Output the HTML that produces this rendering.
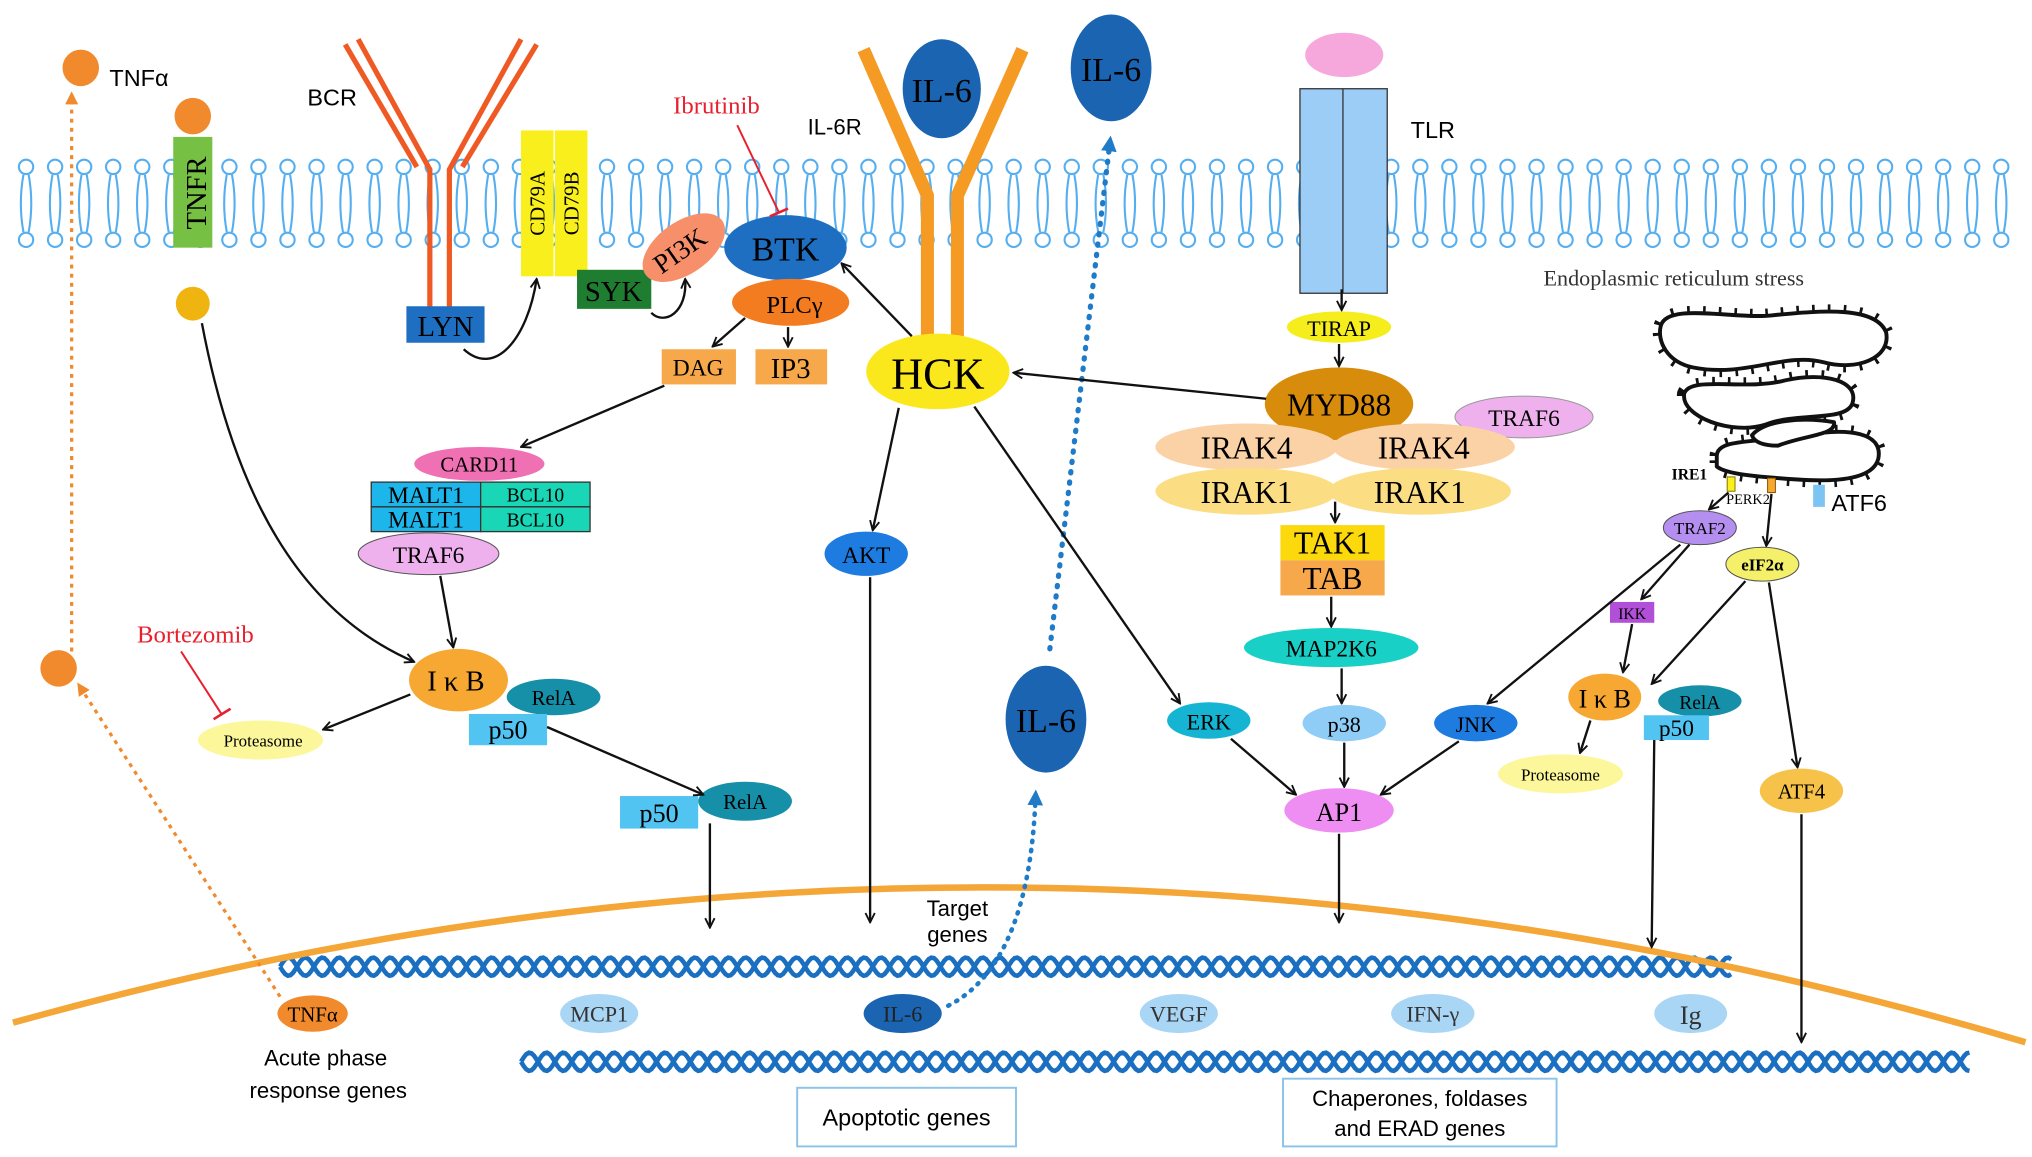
<!DOCTYPE html>
<html><head><meta charset="utf-8">
<style>
html,body{margin:0;padding:0;background:#fff;}
svg{display:block;}
.s{font-family:"Liberation Sans",sans-serif;}
.r{font-family:"Liberation Serif",serif;}
</style></head>
<body>
<svg id="svg" width="2032" height="1157" viewBox="0 0 1560 888" xmlns="http://www.w3.org/2000/svg">
<defs>
<marker id="a" viewBox="0 0 10 10" refX="9" refY="5" markerWidth="9" markerHeight="9" orient="auto-start-reverse" markerUnits="userSpaceOnUse">
<path d="M1,1 L9,5 L1,9" fill="none" stroke="#111" stroke-width="1.6"/></marker>
<marker id="ao" viewBox="0 0 10 10" refX="5" refY="5" markerWidth="10" markerHeight="10" orient="auto" markerUnits="userSpaceOnUse">
<path d="M0,0 L10,5 L0,10 z" fill="#f08a2c"/></marker>
<marker id="ab" viewBox="0 0 10 10" refX="5" refY="5" markerWidth="12" markerHeight="12" orient="auto" markerUnits="userSpaceOnUse">
<path d="M0,0 L10,5 L0,10 z" fill="#1f7bc8"/></marker>
<path id="er1" d="M1275,250 C1280,232 1330,245 1360,242 C1400,238 1440,235 1448,255 C1452,275 1425,285 1400,278 C1370,270 1340,290 1300,282 C1280,278 1272,262 1275,250Z"/>
<path id="er2" d="M1293,302 C1298,288 1340,300 1370,292 C1400,285 1428,292 1422,310 C1416,324 1380,316 1355,326 C1330,334 1290,320 1293,302Z"/>
<path id="er3" d="M1318,350 C1318,336 1350,340 1385,334 C1420,328 1446,332 1442,352 C1438,368 1410,370 1380,368 C1350,366 1325,364 1318,358Z"/>
<path id="er4" d="M1345,334 C1355,322 1385,320 1408,324 C1410,334 1385,334 1365,342 C1355,342 1347,340 1345,334Z"/>
</defs>
<g id="mem"></g>
<g id="dna"></g>

<!-- nucleus arc -->
<path d="M10,785 Q780,570 1555,800" fill="none" stroke="#f4a636" stroke-width="5"/>

<!-- TNF -->
<circle cx="62" cy="52" r="14" fill="#f08a2c"/>
<text x="84" y="66" class="s" font-size="18">TNFα</text>
<line x1="55" y1="500" x2="55" y2="75" stroke="#f08a2c" stroke-width="2.5" stroke-dasharray="3,4" marker-end="url(#ao)"/>
<circle cx="45" cy="513" r="14" fill="#f08a2c"/>
<line x1="215" y1="765" x2="62" y2="528" stroke="#f08a2c" stroke-width="2.5" stroke-dasharray="3,4" marker-end="url(#ao)"/>
<circle cx="148" cy="89" r="14" fill="#f08a2c"/>
<rect x="133" y="105" width="30" height="85" fill="#76c043"/>
<text transform="translate(158,148) rotate(-90)" class="r" font-size="22" text-anchor="middle">TNFR</text>
<circle cx="148" cy="233" r="13" fill="#efb410"/>

<!-- BCR -->
<text x="236" y="81" class="s" font-size="18">BCR</text>
<g stroke="#ef5a24" stroke-width="4" fill="none">
<path d="M330,242 V130 L275,30"/><path d="M345,242 V130 L400,30"/>
<path d="M320,128 L265,34"/><path d="M355,128 L412,34"/>
</g>
<rect x="312" y="235" width="60" height="28" fill="#1e6fc1"/>
<text x="342" y="258" class="r" font-size="22" text-anchor="middle">LYN</text>
<rect x="400" y="100" width="25" height="112" fill="#f9ef1c"/>
<rect x="426" y="100" width="25" height="112" fill="#f9ef1c"/>
<text transform="translate(418,156) rotate(-90)" class="r" font-size="16" text-anchor="middle">CD79A</text>
<text transform="translate(444,156) rotate(-90)" class="r" font-size="16" text-anchor="middle">CD79B</text>
<rect x="443" y="207" width="57" height="30" fill="#1f7d32"/>
<text x="471" y="231" class="r" font-size="22" text-anchor="middle">SYK</text>
<ellipse cx="525" cy="190" rx="36" ry="20" transform="rotate(-35 525 190)" fill="#f7906a"/>
<text transform="translate(526,198) rotate(-35)" class="r" font-size="21" text-anchor="middle">PI3K</text>
<ellipse cx="603" cy="190" rx="47" ry="25" fill="#1e6fc1"/>
<text x="603" y="200" class="r" font-size="26" text-anchor="middle">BTK</text>
<text x="550" y="87" class="r" font-size="19" fill="#e8202e" text-anchor="middle">Ibrutinib</text>
<line x1="566" y1="96" x2="598" y2="163" stroke="#e8202e" stroke-width="1.5"/>
<line x1="591" y1="166" x2="605" y2="160" stroke="#e8202e" stroke-width="2"/>
<ellipse cx="607" cy="232" rx="45" ry="18" fill="#f47c20"/>
<text x="610" y="240" class="r" font-size="19" text-anchor="middle">PLCγ</text>
<rect x="508" y="268" width="57" height="27" fill="#f7a84a"/>
<text x="536" y="288" class="r" font-size="18" text-anchor="middle">DAG</text>
<rect x="580" y="268" width="55" height="27" fill="#f7a84a"/>
<text x="607" y="290" class="r" font-size="22" text-anchor="middle">IP3</text>

<!-- IL-6R -->
<g stroke="#f59a23" stroke-width="10" fill="none">
<path d="M712,258 V150 L663,38"/><path d="M735,258 V150 L785,38"/>
</g>
<ellipse cx="723" cy="68" rx="30" ry="38" fill="#1a64b2"/>
<text x="723" y="78" class="r" font-size="26" text-anchor="middle">IL-6</text>
<text x="620" y="103" class="s" font-size="17">IL-6R</text>
<ellipse cx="720" cy="285" rx="55" ry="29" fill="#fbe81c"/>
<text x="720" y="298" class="r" font-size="34" text-anchor="middle">HCK</text>
<ellipse cx="853" cy="52" rx="31" ry="41" fill="#1a64b2"/>
<text x="853" y="62" class="r" font-size="26" text-anchor="middle">IL-6</text>
<line x1="806" y1="498" x2="852" y2="110" stroke="#1f7bc8" stroke-width="4" stroke-dasharray="1,7" stroke-linecap="round" marker-end="url(#ab)"/>
<ellipse cx="803" cy="552" rx="31" ry="41" fill="#1a64b2"/>
<text x="803" y="562" class="r" font-size="26" text-anchor="middle">IL-6</text>
<path d="M728,772 Q790,740 795,612" fill="none" stroke="#1f7bc8" stroke-width="3.5" stroke-dasharray="1,6" stroke-linecap="round" marker-end="url(#ab)"/>
<ellipse cx="665" cy="425" rx="32" ry="17" fill="#1e7be0"/>
<text x="665" y="432" class="r" font-size="18" text-anchor="middle">AKT</text>

<!-- TLR -->
<ellipse cx="1032" cy="42" rx="30" ry="17" fill="#f6a8dc"/>
<rect x="998" y="68" width="67" height="157" fill="#9bcdf6" stroke="#333" stroke-width="1"/>
<line x1="1031" y1="68" x2="1031" y2="225" stroke="#333" stroke-width="1"/>
<text x="1083" y="106" class="s" font-size="18">TLR</text>
<ellipse cx="1028" cy="251" rx="40" ry="12" fill="#f5ed1c"/>
<text x="1028" y="258" class="r" font-size="17" text-anchor="middle">TIRAP</text>
<ellipse cx="1028" cy="310" rx="57" ry="28" fill="#d88c0c"/>
<text x="1028" y="319" class="r" font-size="24" text-anchor="middle">MYD88</text>
<ellipse cx="1170" cy="320" rx="53" ry="16" fill="#efb0ee" stroke="#999" stroke-width="0.8"/>
<text x="1170" y="327" class="r" font-size="18" text-anchor="middle">TRAF6</text>
<ellipse cx="957" cy="343" rx="70" ry="18" fill="#fbd1a6"/>
<ellipse cx="1093" cy="343" rx="70" ry="18" fill="#fbd1a6"/>
<text x="957" y="352" class="r" font-size="24" text-anchor="middle">IRAK4</text>
<text x="1093" y="352" class="r" font-size="24" text-anchor="middle">IRAK4</text>
<ellipse cx="957" cy="377" rx="70" ry="18" fill="#fbde84"/>
<ellipse cx="1090" cy="377" rx="70" ry="18" fill="#fbde84"/>
<text x="957" y="386" class="r" font-size="24" text-anchor="middle">IRAK1</text>
<text x="1090" y="386" class="r" font-size="24" text-anchor="middle">IRAK1</text>
<rect x="983" y="403" width="80" height="27" fill="#fbd90c"/>
<rect x="983" y="430" width="80" height="27" fill="#f7a84a"/>
<text x="1023" y="425" class="r" font-size="24" text-anchor="middle">TAK1</text>
<text x="1023" y="452" class="r" font-size="24" text-anchor="middle">TAB</text>
<ellipse cx="1022" cy="497" rx="67" ry="15" fill="#19d0c6"/>
<text x="1022" y="504" class="r" font-size="18" text-anchor="middle">MAP2K6</text>
<ellipse cx="928" cy="553" rx="32" ry="14" fill="#14b4d2"/>
<text x="928" y="560" class="r" font-size="17" text-anchor="middle">ERK</text>
<ellipse cx="1032" cy="555" rx="32" ry="14" fill="#8fcdf6"/>
<text x="1032" y="562" class="r" font-size="17" text-anchor="middle">p38</text>
<ellipse cx="1133" cy="555" rx="32" ry="14" fill="#1e7be0"/>
<text x="1133" y="562" class="r" font-size="17" text-anchor="middle">JNK</text>
<ellipse cx="1028" cy="622" rx="42" ry="17" fill="#ee8ef2"/>
<text x="1028" y="630" class="r" font-size="20" text-anchor="middle">AP1</text>

<!-- NFkB left -->
<ellipse cx="368" cy="356" rx="50" ry="13" fill="#f070b4"/>
<text x="368" y="362" class="r" font-size="16" text-anchor="middle">CARD11</text>
<rect x="285" y="370" width="84" height="19" fill="#1cb6ea" stroke="#333" stroke-width="1"/>
<rect x="369" y="370" width="84" height="19" fill="#19d6b6" stroke="#333" stroke-width="1"/>
<rect x="285" y="389" width="84" height="19" fill="#1cb6ea" stroke="#333" stroke-width="1"/>
<rect x="369" y="389" width="84" height="19" fill="#19d6b6" stroke="#333" stroke-width="1"/>
<text x="327" y="386" class="r" font-size="18" text-anchor="middle">MALT1</text>
<text x="327" y="405" class="r" font-size="18" text-anchor="middle">MALT1</text>
<text x="411" y="385" class="r" font-size="15" text-anchor="middle">BCL10</text>
<text x="411" y="404" class="r" font-size="15" text-anchor="middle">BCL10</text>
<ellipse cx="329" cy="425" rx="54" ry="16" fill="#efb0ee" stroke="#555" stroke-width="0.8"/>
<text x="329" y="432" class="r" font-size="18" text-anchor="middle">TRAF6</text>
<ellipse cx="352" cy="522" rx="38" ry="24" fill="#f7a832"/>
<text x="350" y="530" class="r" font-size="22" text-anchor="middle">I κ B</text>
<ellipse cx="425" cy="535" rx="36" ry="14" fill="#168fa8"/>
<text x="425" y="541" class="r" font-size="16" text-anchor="middle">RelA</text>
<rect x="360" y="548" width="60" height="24" fill="#52c4f2"/>
<text x="390" y="567" class="r" font-size="20" text-anchor="middle">p50</text>
<text x="150" y="493" class="r" font-size="19" fill="#e8202e" text-anchor="middle">Bortezomib</text>
<line x1="139" y1="500" x2="170" y2="548" stroke="#e8202e" stroke-width="1.5"/>
<line x1="164" y1="552" x2="177" y2="544" stroke="#e8202e" stroke-width="2"/>
<ellipse cx="200" cy="568" rx="48" ry="15" fill="#fbf79a"/>
<text x="202" y="573" class="r" font-size="13" text-anchor="middle">Proteasome</text>
<rect x="476" y="611" width="60" height="25" fill="#52c4f2"/>
<text x="506" y="631" class="r" font-size="20" text-anchor="middle">p50</text>
<ellipse cx="572" cy="615" rx="36" ry="15" fill="#168fa8"/>
<text x="572" y="621" class="r" font-size="16" text-anchor="middle">RelA</text>

<!-- ER -->
<text x="1285" y="219" class="r" font-size="17" text-anchor="middle" fill="#333">Endoplasmic reticulum stress</text>
<g fill="none" stroke="#111" stroke-width="11" stroke-dasharray="2,10">
<use href="#er1"/><use href="#er2"/><use href="#er3"/>
</g>
<g fill="#fff" stroke="#111" stroke-width="3" stroke-linejoin="round">
<use href="#er1"/><use href="#er2"/><use href="#er3"/><use href="#er4"/>
</g>
<text x="1297" y="368" class="r" font-size="12" font-weight="bold" text-anchor="middle">IRE1</text>
<rect x="1326" y="366" width="6" height="11" fill="#f9ef1c" stroke="#8a7a00" stroke-width="0.8"/>
<rect x="1357" y="367" width="6" height="11" fill="#f7a832" stroke="#8a5a00" stroke-width="0.8"/>
<text x="1342" y="387" class="r" font-size="11" text-anchor="middle">PERK2</text>
<rect x="1392" y="372" width="9" height="17" fill="#7cc4f2"/>
<text x="1406" y="392" class="s" font-size="18">ATF6</text>
<ellipse cx="1305" cy="405" rx="28" ry="13" fill="#b58ff0" stroke="#555" stroke-width="0.8"/>
<text x="1305" y="410" class="r" font-size="13" text-anchor="middle">TRAF2</text>
<ellipse cx="1353" cy="433" rx="28" ry="13" fill="#f4f06a" stroke="#555" stroke-width="0.8"/>
<text x="1353" y="438" class="r" font-size="13" font-weight="bold" text-anchor="middle">eIF2α</text>
<rect x="1236" y="462" width="34" height="16" fill="#b24fd8"/>
<text x="1253" y="475" class="r" font-size="12" text-anchor="middle">IKK</text>
<ellipse cx="1232" cy="535" rx="28" ry="18" fill="#f7a832"/>
<text x="1232" y="543" class="r" font-size="20" text-anchor="middle">I κ B</text>
<ellipse cx="1305" cy="538" rx="32" ry="12" fill="#168fa8"/>
<text x="1305" y="544" class="r" font-size="15" text-anchor="middle">RelA</text>
<rect x="1262" y="549" width="50" height="19" fill="#52c4f2"/>
<text x="1287" y="565" class="r" font-size="18" text-anchor="middle">p50</text>
<ellipse cx="1198" cy="594" rx="48" ry="15" fill="#fbf79a"/>
<text x="1198" y="599" class="r" font-size="13" text-anchor="middle">Proteasome</text>
<ellipse cx="1383" cy="607" rx="32" ry="17" fill="#f7c24a"/>
<text x="1383" y="613" class="r" font-size="16" text-anchor="middle">ATF4</text>

<!-- arrows -->
<g stroke="#111" stroke-width="1.8" fill="none" marker-end="url(#a)">
<path d="M155,248 C180,380 230,470 318,508"/>
<path d="M356,268 C380,290 405,260 412,214"/>
<path d="M500,240 C510,250 528,240 526,214"/>
<line x1="572" y1="244" x2="547" y2="266"/>
<line x1="605" y1="251" x2="605" y2="266"/>
<line x1="510" y1="296" x2="400" y2="343"/>
<line x1="338" y1="442" x2="348" y2="497"/>
<line x1="315" y1="533" x2="248" y2="560"/>
<line x1="420" y1="558" x2="540" y2="610"/>
<line x1="545" y1="632" x2="545" y2="712"/>
<line x1="700" y1="258" x2="646" y2="202"/>
<line x1="972" y1="306" x2="778" y2="286"/>
<line x1="690" y1="313" x2="670" y2="407"/>
<line x1="668" y1="443" x2="668" y2="708"/>
<line x1="748" y1="312" x2="906" y2="540"/>
<line x1="1030" y1="222" x2="1030" y2="238"/>
<line x1="1028" y1="264" x2="1028" y2="281"/>
<line x1="1025" y1="385" x2="1025" y2="401"/>
<line x1="1022" y1="458" x2="1022" y2="481"/>
<line x1="1030" y1="513" x2="1030" y2="540"/>
<line x1="945" y1="567" x2="995" y2="610"/>
<line x1="1032" y1="570" x2="1032" y2="604"/>
<line x1="1120" y1="569" x2="1060" y2="610"/>
<line x1="1028" y1="640" x2="1028" y2="708"/>
<line x1="1290" y1="418" x2="1142" y2="540"/>
<line x1="1297" y1="418" x2="1260" y2="460"/>
<line x1="1327" y1="378" x2="1312" y2="391"/>
<line x1="1360" y1="379" x2="1356" y2="419"/>
<line x1="1340" y1="446" x2="1268" y2="525"/>
<line x1="1358" y1="447" x2="1380" y2="589"/>
<line x1="1221" y1="553" x2="1213" y2="578"/>
<line x1="1253" y1="479" x2="1246" y2="516"/>
<line x1="1270" y1="568" x2="1268" y2="727"/>
<line x1="1383" y1="625" x2="1383" y2="800"/>
</g>

<!-- genes -->
<ellipse cx="240" cy="778" rx="27" ry="14" fill="#f08a2c"/>
<text x="240" y="784" class="r" font-size="16" text-anchor="middle">TNFα</text>
<ellipse cx="460" cy="778" rx="30" ry="15" fill="#a9d6f4"/>
<text x="460" y="784" class="r" font-size="17" text-anchor="middle" fill="#333">MCP1</text>
<ellipse cx="693" cy="778" rx="30" ry="15" fill="#1a64b2"/>
<text x="693" y="784" class="r" font-size="17" text-anchor="middle" fill="#222">IL-6</text>
<ellipse cx="905" cy="778" rx="30" ry="15" fill="#a9d6f4"/>
<text x="905" y="784" class="r" font-size="17" text-anchor="middle" fill="#333">VEGF</text>
<ellipse cx="1100" cy="778" rx="32" ry="15" fill="#a9d6f4"/>
<text x="1100" y="784" class="r" font-size="17" text-anchor="middle" fill="#333">IFN-γ</text>
<ellipse cx="1298" cy="778" rx="28" ry="15" fill="#a9d6f4"/>
<text x="1298" y="786" class="r" font-size="20" text-anchor="middle" fill="#333">Ig</text>
<text x="250" y="818" class="s" font-size="17" text-anchor="middle">Acute phase</text>
<text x="252" y="843" class="s" font-size="17" text-anchor="middle">response genes</text>
<text x="735" y="703" class="s" font-size="17" text-anchor="middle">Target</text>
<text x="735" y="723" class="s" font-size="17" text-anchor="middle">genes</text>
<rect x="612" y="835" width="168" height="45" fill="#fff" stroke="#8cc4e8" stroke-width="1.5"/>
<text x="696" y="864" class="s" font-size="18" text-anchor="middle">Apoptotic genes</text>
<rect x="985" y="828" width="210" height="52" fill="#fff" stroke="#8cc4e8" stroke-width="1.5"/>
<text x="1090" y="849" class="s" font-size="17" text-anchor="middle">Chaperones, foldases</text>
<text x="1090" y="872" class="s" font-size="17" text-anchor="middle">and ERAD genes</text>
</svg>
<script>
(function(){
var mem=document.getElementById("mem");var h="";
for(var x=20;x<1555;x+=22.3){
 h+='<circle cx="'+x+'" cy="128" r="5.5"/><circle cx="'+x+'" cy="184" r="5.5"/>';
 h+='<path d="M'+(x-2)+',134 Q'+(x-6)+',156 '+(x-2)+',178 M'+(x+2)+',134 Q'+(x+6)+',156 '+(x+2)+',178"/>';
}
mem.innerHTML=h;mem.setAttribute("fill","#fff");mem.setAttribute("stroke","#55aef0");mem.setAttribute("stroke-width","1.6");
function helix(x0,x1,y){var p1="",p2="";for(var x=x0;x<=x1;x+=2){var a=(x-x0)/26*Math.PI*2;p1+=(x==x0?"M":"L")+x+","+(y+7*Math.sin(a));p2+=(x==x0?"M":"L")+x+","+(y-7*Math.sin(a));}
return '<path d="'+p1+'"/><path d="'+p2+'"/>';}
var d=document.getElementById("dna");d.innerHTML=helix(215,1330,742)+helix(400,1512,815);
d.setAttribute("fill","none");d.setAttribute("stroke","#1a6fc0");d.setAttribute("stroke-width","3.5");
})();
</script>
</body></html>
